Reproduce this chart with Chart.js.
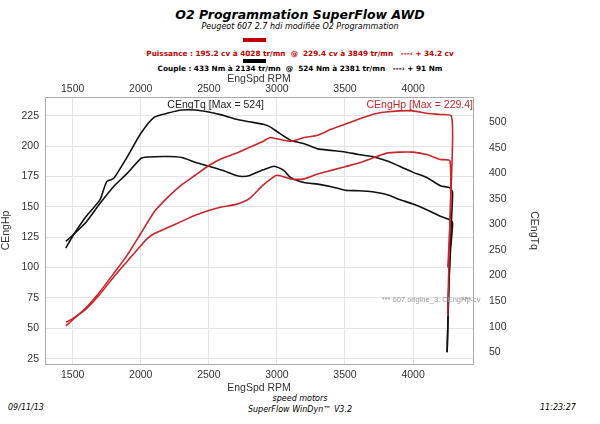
<!DOCTYPE html>
<html><head><meta charset="utf-8">
<script src="https://cdn.jsdelivr.net/npm/chart.js@4"></script>
<style>
body{margin:0;width:600px;height:424px;background:#fff;position:relative;overflow:hidden;font-family:"Liberation Sans",Arial,sans-serif}
canvas{position:absolute;left:0;top:0}
.t{position:absolute;white-space:nowrap;font-family:"DejaVu Sans";font-style:italic}
.bar{position:absolute;height:4px;width:23px}
</style></head><body>
<div class="t" style="left:0;width:600px;text-align:center;top:7px;font-weight:bold;font-size:12.5px">O2 Programmation SuperFlow AWD</div>
<div class="t" style="left:0;width:600px;text-align:center;top:22px;font-size:8px">Peugeot 607 2.7 hdi modifiée O2 Programmation</div>
<div class="bar" style="left:243px;top:38px;background:#c00000"></div>
<div class="t" style="left:0;width:600px;text-align:center;top:49px;font-size:7.3px;font-weight:bold;font-style:normal;color:#c00000">Puissance : 195.2 cv à 4028 tr/mn &nbsp;@&nbsp; 229.4 cv à 3849 tr/mn &nbsp; ---‹ + 34.2 cv</div>
<div class="bar" style="left:243px;top:59px;background:#000"></div>
<div class="t" style="left:0;width:600px;text-align:center;top:64px;font-size:7.3px;font-weight:bold;font-style:normal;color:#000">Couple : 433 Nm à 2134 tr/mn &nbsp;@&nbsp; 524 Nm à 2381 tr/mn &nbsp; ---› + 91 Nm</div>
<div class="t" style="left:8px;top:403px;font-size:8px">09/11/13</div>
<div class="t" style="left:0;width:600px;text-align:center;top:394px;font-size:8px">speed motors</div>
<div class="t" style="left:0;width:600px;text-align:center;top:405px;font-size:8px">SuperFlow WinDyn™ V3.2</div>
<div class="t" style="left:540px;top:403px;font-size:8px">11:23:27</div>
<canvas id="c" width="600" height="424"></canvas>
<script>
const hpStockX=[1450,1500,1600,1700,1800,1900,2000,2050,2100,2200,2300,2400,2500,2600,2700,2800,2900,3000,3100,3200,3300,3400,3500,3600,3700,3800,3900,4000,4100,4200,4270,4275,4260,4255];
const hpStockY=[55,58,66,78,92,105,118,124,128,133,138,143,147,150,152,157,168,176,173,173,177,180,183,186,190,194,195,195,193,189,188,150,110,100];
const hpModX=[1450,1500,1600,1700,1800,1900,2000,2100,2200,2300,2400,2500,2600,2700,2800,2900,2950,3000,3100,3200,3300,3400,3500,3600,3700,3800,3900,4000,4100,4200,4280,4290,4275,4260,4255];
const hpModY=[52,57,67,80,95,110,128,146,158,168,176,184,190,194,199,204,207,206,204,207,209,214,218,222,226,228,229,229,227,226,225,205,150,90,60];
const tqModX=[1450,1500,1600,1700,1750,1800,1900,2000,2100,2200,2300,2400,2500,2600,2700,2800,2900,2950,3000,3100,3200,3300,3400,3500,3600,3700,3800,3900,4000,4100,4200,4270,4290,4280,4265,4255,4250];
const tqModY=[254,277,316,348,384,390,432,478,510,518,524,524,520,514,506,501,496,491,482,465,458,448,445,442,437,433,425,414,402,392,376,372,363,300,200,100,50];
const tqStockX=[1450,1500,1600,1700,1800,1900,2000,2050,2200,2300,2400,2500,2600,2700,2750,2800,2900,2980,3050,3100,3200,3300,3400,3500,3600,3700,3800,3900,4000,4100,4200,4270,4290,4275,4262,4255,4250];
const tqStockY=[267,279,305,341,374,400,429,432,433,431,422,414,406,396,394,396,407,414,406,392,382,379,374,367,366,364,359,349,340,329,316,309,304,250,180,100,50];
const xTicks=[1500,2000,2500,3000,3500,4000];
const pts=(xs,ys)=>xs.map((x,i)=>({x,y:ys[i]}));
const grid={color:'#e4e4e4',borderDash:[2,2],drawTicks:false};
const tk={color:'#333',font:{size:10.5,family:'Liberation Sans'},callback:v=>String(v)};
const ds=(d,c,ax)=>({data:d,borderColor:c,borderWidth:1.6,pointRadius:0,showLine:true,yAxisID:ax,tension:0.2});
new Chart(document.getElementById('c'),{type:'scatter',
data:{datasets:[ds(pts(hpStockX,hpStockY),'#c8262b','yL'),ds(pts(hpModX,hpModY),'#c8262b','yL'),ds(pts(tqStockX,tqStockY),'#111','yR'),ds(pts(tqModX,tqModY),'#111','yR')]},
options:{animation:false,responsive:false,plugins:{legend:{display:false},tooltip:{enabled:false}},
layout:{padding:{top:97,right:60,bottom:30,left:0}},
scales:{
x:{type:'linear',position:'bottom',min:1297,max:4440,afterBuildTicks:a=>{a.ticks=xTicks.map(v=>({value:v}))},grid:grid,border:{color:'#aaa'},ticks:{...tk,padding:5},title:{display:true,text:'EngSpd RPM',color:'#333',font:{size:10.5},padding:0},afterFit:a=>{a.height=30}},
yL:{position:'left',min:20.6,max:240.4,afterBuildTicks:a=>{a.ticks=[25,50,75,100,125,150,175,200,225].map(v=>({value:v}))},grid:grid,border:{color:'#aaa'},ticks:{...tk,padding:6},title:{display:true,text:'CEngHp',color:'#333',font:{size:10.5},padding:0},afterFit:a=>{a.width=45}},
yR:{position:'right',min:27,max:549.5,afterBuildTicks:a=>{a.ticks=[50,100,150,200,250,300,350,400,450,500].map(v=>({value:v}))},grid:{display:false},border:{color:'#aaa'},ticks:{...tk,padding:8},title:{display:true,text:'CEngTq',color:'#333',font:{size:10.5},padding:0},afterFit:a=>{a.width=67}}
}},
plugins:[{id:'ann',afterDraw(c){const g=c.ctx,a=c.chartArea,x=c.scales.x;g.save();g.font='10.5px Liberation Sans';g.textBaseline='middle';
g.strokeStyle='#aaa';g.lineWidth=1;g.beginPath();g.moveTo(a.left,a.top+0.5);g.lineTo(a.right,a.top+0.5);g.stroke();
g.fillStyle='#333';g.textAlign='center';xTicks.forEach(v=>g.fillText(String(v),x.getPixelForValue(v),89));
g.fillText('EngSpd RPM',(a.left+a.right)/2,79);
g.fillStyle='#222';g.fillText('CEngTq [Max = 524]',x.getPixelForValue(2550),a.top+8);
g.fillStyle='#c8262b';g.textAlign='right';g.fillText('CEngHp [Max = 229.4]',a.right,a.top+8);
g.fillStyle='#999';g.font='7.5px Liberation Sans';g.textAlign='left';g.fillText('*** 607 origine_3: CEngHp-cv',x.getPixelForValue(3770),c.scales.yL.getPixelForValue(73.5));g.fillText('***',x.getPixelForValue(4360),c.scales.yL.getPixelForValue(73.5));
g.restore();}}]
});
</script></body></html>
